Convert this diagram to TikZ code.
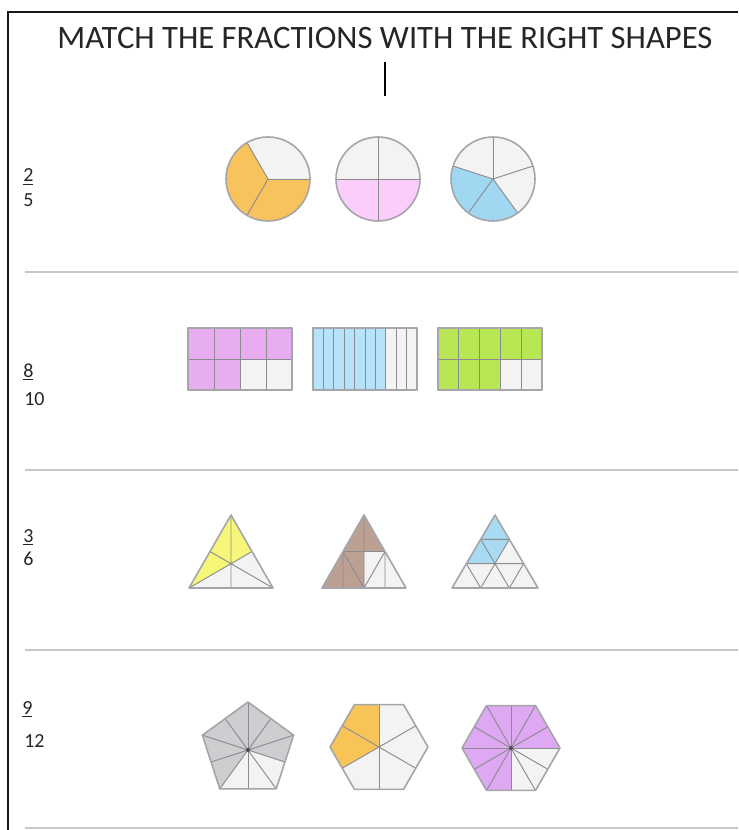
\documentclass[tikz,border=0pt]{standalone}
\usepackage{fontspec}
\setmainfont{Carlito}
\usetikzlibrary{calc}
\definecolor{frameblack}{RGB}{25,25,25}
\definecolor{sepgray}{RGB}{200,200,200}
\definecolor{edgegray}{RGB}{165,165,170}
\definecolor{emptygray}{RGB}{243,243,243}
\definecolor{pieorange}{RGB}{248,194,92}
\definecolor{piepink}{RGB}{252,204,250}
\definecolor{pieblue}{RGB}{160,216,242}
\definecolor{barpurple}{RGB}{232,172,240}
\definecolor{barblue}{RGB}{182,226,250}
\definecolor{bargreen}{RGB}{184,230,84}
\definecolor{triyellow}{RGB}{246,246,120}
\definecolor{tribrown}{RGB}{188,160,146}
\definecolor{triblue}{RGB}{168,218,242}
\definecolor{polygray}{RGB}{206,206,208}
\definecolor{polyorange}{RGB}{248,196,88}
\definecolor{polypurple}{RGB}{222,168,242}

\begin{document}
\begin{tikzpicture}[
  x=0.75pt, y=-0.75pt,
  outline/.style={draw=edgegray, line width=1.2pt, line join=round},
  divline/.style={draw=edgegray!85!black, line width=0.7pt},
  sepline/.style={draw=sepgray, line width=1.1pt},
  frac/.style={anchor=base west, inner sep=0pt, font=\fontsize{15}{17}\selectfont, text=black!85}
]
  \useasboundingbox (0,0) rectangle (738,830);
  \draw[frameblack, line width=1.3pt] (738,12) -- (8,12) -- (8,830);

  \node[font=\fontsize{24.5}{28}\selectfont, text=black!85] (title) at (385,38)
    {MATCH THE FRACTIONS WITH THE RIGHT SHAPES};
  \draw[black, line width=1pt] (385,62) -- (385,96);

  \foreach \y in {272,470,650,828}
    \draw[sepline] (25,\y) -- (738,\y);

  % fractions
  \node[frac] (num1) at (23,182) {\underline{2}};
  \node[frac] (den1) at (23,207) {5};
  \node[frac] (num2) at (23,377) {\underline{8}};
  \node[frac] (den2) at (24,405) {10};
  \node[frac] (num3) at (23,542) {\underline{3}};
  \node[frac] (den3) at (23,565) {6};
  \node[frac] (num4) at (22,714) {\underline{9}};
  \node[frac] (den4) at (24,747) {12};

  % circles
  \coordinate (c1) at (268,179);
  \coordinate (c2) at (378,179);
  \coordinate (c3) at (493,179);
  \fill[emptygray] (c1) circle[radius=42] (c2) circle[radius=42] (c3) circle[radius=42];
  \fill[pieorange] (c1) -- ++(0:42) arc[start angle=0, end angle=240, radius=42] -- cycle;
  \fill[piepink] (c2) -- ++(0:42) arc[start angle=0, end angle=180, radius=42] -- cycle;
  \fill[pieblue] (c3) -- ++(54:42) arc[start angle=54, end angle=198, radius=42] -- cycle;
  \foreach \a in {0,120,240} \draw[divline] (c1) -- ++(\a:42);
  \foreach \a in {0,90,180,270} \draw[divline] (c2) -- ++(\a:42);
  \foreach \a in {-90,-18,54,126,198} \draw[divline] (c3) -- ++(\a:42);
  \foreach \c in {c1,c2,c3} \draw[outline] (\c) circle[radius=42];

  % bars
  \fill[emptygray] (188,328) rectangle ++(104,62);
  \fill[barpurple] (188,328) rectangle ++(104,31);
  \fill[barpurple] (188,359) rectangle ++(52,31);
  \foreach \i in {1,2,3} \draw[divline] ({188+26*\i},328) -- ++(0,62);
  \draw[divline] (188,359) -- ++(104,0);
  \draw[outline] (188,328) rectangle ++(104,62);

  \fill[emptygray] (313,328) rectangle ++(104,62);
  \fill[barblue] (313,328) rectangle ++(72.8,62);
  \foreach \i in {1,...,9} \draw[divline] ({313+10.4*\i},328) -- ++(0,62);
  \draw[outline] (313,328) rectangle ++(104,62);

  \fill[emptygray] (438,328) rectangle ++(104,62);
  \fill[bargreen] (438,328) rectangle ++(104,31);
  \fill[bargreen] (438,359) rectangle ++(62.4,31);
  \foreach \i in {1,...,4} \draw[divline] ({438+20.8*\i},328) -- ++(0,62);
  \draw[divline] (438,359) -- ++(104,0);
  \draw[outline] (438,328) rectangle ++(104,62);

  % triangles
  \coordinate (t1a) at (231,515);
  \coordinate (t1b) at (189,588);
  \coordinate (t1c) at (273,588);
  \coordinate (t1ab) at ($(t1a)!.5!(t1b)$);
  \coordinate (t1bc) at ($(t1b)!.5!(t1c)$);
  \coordinate (t1ca) at ($(t1c)!.5!(t1a)$);
  \coordinate (t1g) at ($(t1a)!2/3!(t1bc)$);
  \fill[emptygray] (t1a) -- (t1b) -- (t1c) -- cycle;
  \fill[triyellow] (t1a) -- (t1b) -- (t1g) -- (t1ca) -- cycle;
  \draw[divline] (t1a) -- (t1bc) (t1b) -- (t1ca) (t1c) -- (t1ab);
  \draw[outline] (t1a) -- (t1b) -- (t1c) -- cycle;

  \coordinate (t2a) at (364,515);
  \coordinate (t2b) at (322,588);
  \coordinate (t2c) at (406,588);
  \coordinate (t2ab) at ($(t2a)!.5!(t2b)$);
  \coordinate (t2bc) at ($(t2b)!.5!(t2c)$);
  \coordinate (t2ca) at ($(t2c)!.5!(t2a)$);
  \coordinate (t2m) at ($(t2ab)!.5!(t2ca)$);
  \fill[emptygray] (t2a) -- (t2b) -- (t2c) -- cycle;
  \fill[tribrown] (t2a) -- (t2ca) -- (t2m) -- (t2bc) -- (t2b) -- cycle;
  \draw[divline] (t2ab) -- (t2ca) -- (t2bc) -- cycle (t2a) -- (t2bc)
    (t2ab) -- ($(t2b)!.5!(t2bc)$) (t2ca) -- ($(t2bc)!.5!(t2c)$);
  \draw[outline] (t2a) -- (t2b) -- (t2c) -- cycle;

  \coordinate (t3a) at (495,515);
  \coordinate (t3b) at (452,588);
  \coordinate (t3c) at (538,588);
  \coordinate (t3p1) at ($(t3a)!1/3!(t3b)$);
  \coordinate (t3p2) at ($(t3a)!2/3!(t3b)$);
  \coordinate (t3q1) at ($(t3a)!1/3!(t3c)$);
  \coordinate (t3q2) at ($(t3a)!2/3!(t3c)$);
  \coordinate (t3s1) at ($(t3b)!1/3!(t3c)$);
  \coordinate (t3s2) at ($(t3b)!2/3!(t3c)$);
  \coordinate (t3r) at ($(t3p2)!.5!(t3q2)$);
  \fill[emptygray] (t3a) -- (t3b) -- (t3c) -- cycle;
  \fill[triblue] (t3a) -- (t3p2) -- (t3r) -- (t3q1) -- cycle;
  \draw[divline] (t3p1) -- (t3q1) (t3p2) -- (t3q2) (t3s1) -- (t3p2)
    (t3s2) -- (t3p1) (t3s1) -- (t3q1) (t3s2) -- (t3q2);
  \draw[outline] (t3a) -- (t3b) -- (t3c) -- cycle;

  % pentagon
  \begin{scope}[shift={(248,750)}]
    \fill[polygray] (-90:48) -- (-18:48) -- (54:48) -- (126:48) -- (198:48) -- cycle;
    \fill[emptygray] (0,0) -- (18:38.8) -- (54:48) -- (90:38.8) -- (126:48) -- cycle;
    \foreach \a in {-90,-18,...,198} \draw[divline] (0,0) -- (\a:48);
    \foreach \a in {-54,18,...,234} \draw[divline] (0,0) -- (\a:38.8);
    \draw[outline] (-90:48) -- (-18:48) -- (54:48) -- (126:48) -- (198:48) -- cycle;
    \fill[black!70] (0,0) circle[radius=2];
  \end{scope}

  % hexagons
  \begin{scope}[shift={(379,747)}]
    \fill[emptygray] (0:49) -- (60:49) -- (120:49) -- (180:49) -- (240:49) -- (300:49) -- cycle;
    \fill[polyorange] (0,0) -- (150:42.4) -- (180:49) -- (240:49) -- (270:42.4) -- cycle;
    \foreach \a in {30,90,...,330} \draw[divline] (0,0) -- (\a:42.4);
    \draw[outline] (0:49) -- (60:49) -- (120:49) -- (180:49) -- (240:49) -- (300:49) -- cycle;
  \end{scope}

  \begin{scope}[shift={(511,748)}]
    \fill[polypurple] (0:49) -- (60:49) -- (120:49) -- (180:49) -- (240:49) -- (300:49) -- cycle;
    \fill[emptygray] (0,0) -- (0:49) -- (30:42.4) -- (60:49) -- (90:42.4) -- cycle;
    \foreach \a in {0,60,...,300} \draw[divline] (0,0) -- (\a:49);
    \foreach \a in {30,90,...,330} \draw[divline] (0,0) -- (\a:42.4);
    \draw[outline] (0:49) -- (60:49) -- (120:49) -- (180:49) -- (240:49) -- (300:49) -- cycle;
    \fill[black!70] (0,0) circle[radius=2];
  \end{scope}
\end{tikzpicture}
\end{document}
